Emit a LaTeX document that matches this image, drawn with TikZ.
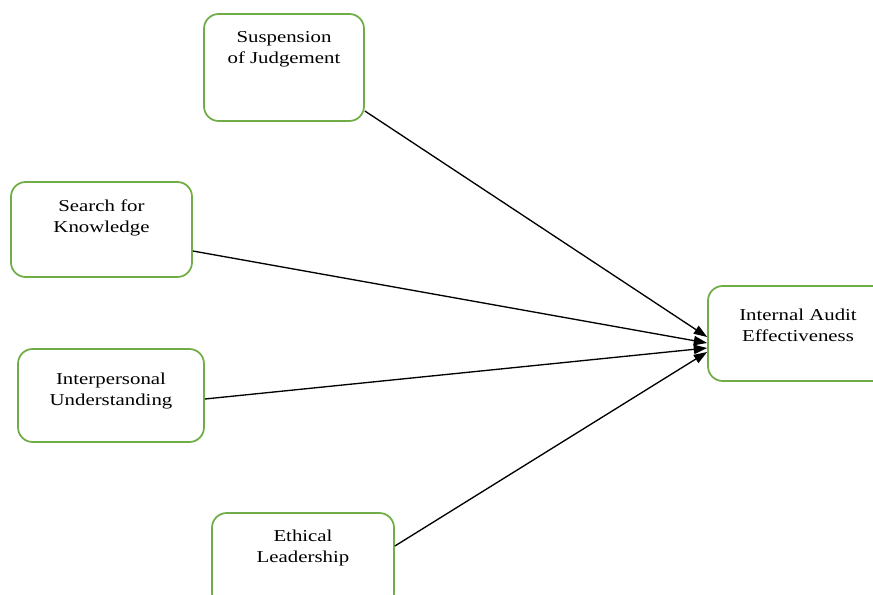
\documentclass[tikz,border=0pt]{standalone}
\usepackage{fontspec}
\setmainfont{Liberation Serif}[FakeStretch=1.25]
\usepackage{tikz}
\usetikzlibrary{arrows.meta,positioning,calc}
\definecolor{boxgreen}{RGB}{112,173,71}
\tikzset{
  factor/.style={draw=boxgreen, line width=1.3pt, rounded corners=11pt, inner sep=0pt,
    font=\fontsize{12.5}{15.75}\selectfont},
  link/.style={-{Triangle[length=10pt,width=7pt]}, line width=1pt, black},
}
% text block sitting at the top of a box: height, width, top gap, lines
\newcommand{\boxlines}[4]{\parbox[c][#1][t]{#2}{\centering\vspace*{#3}\strut #4}}

\begin{document}
\begin{tikzpicture}[x=0.75pt,y=-0.75pt]
    \useasboundingbox (0,0) rectangle (873,595);
    \clip (0,0) rectangle (873,595);
    % antecedents
    \node[factor] (susp) at (284,67.5)
      {\boxlines{80.25pt}{120pt}{10pt}{Suspension\\of Judgement}};
    \node[factor] (search) at (101.5,229.5)
      {\boxlines{71.25pt}{135.75pt}{10.75pt}{Search for\\Knowledge}};
    \node[factor] (inter) at (111,395.5)
      {\boxlines{69.75pt}{139.5pt}{15.25pt}{Interpersonal\\Understanding}};
    \node[factor] (ethic) at (303,560.5)
      {\boxlines{71.25pt}{136.5pt}{10pt}{Ethical\\Leadership}};
    % outcome
    \node[factor] (iae) at (798,333.5)
      {\boxlines{71.25pt}{135pt}{14.5pt}{Internal Audit\\Effectiveness}};
    % paths
    \draw[link] ($(susp.east)+(0,43.5)$) -- ($(iae.west)+(0,3.5)$);
    \draw[link] ($(search.east)+(0,21.5)$) -- ($(iae.west)+(0,9.5)$);
    \draw[link] ($(inter.east)+(0,3.5)$) -- ($(iae.west)+(0,14.5)$);
    \draw[link] ($(ethic.east)+(0,-14.5)$) -- ($(iae.west)+(0,18.5)$);
  \end{tikzpicture}
\end{document}
